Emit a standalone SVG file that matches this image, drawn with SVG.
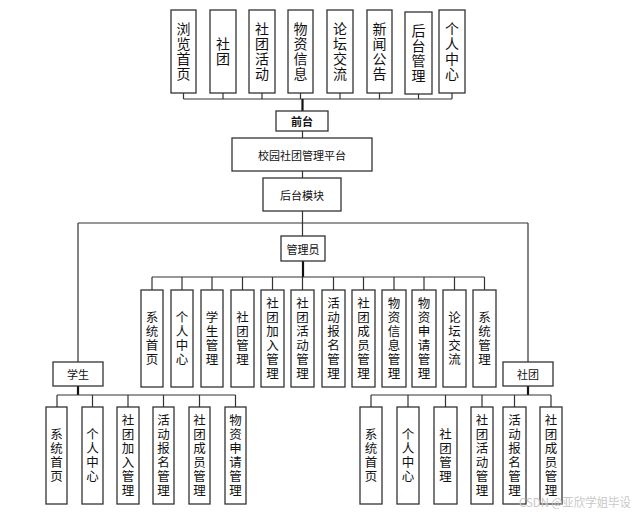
<svg xmlns="http://www.w3.org/2000/svg" width="639" height="515" viewBox="0 0 639 515">
<style>
.box{fill:#fff;stroke:#333;stroke-width:1.3}
.ln{fill:none;stroke:#333;stroke-width:1.2}
.tk{fill:none;stroke:#111;stroke-width:2.2}
.t{font-family:"Noto Sans CJK SC","Liberation Sans",sans-serif;fill:#111;text-anchor:middle;dominant-baseline:central}
.v{font-family:"Noto Sans CJK SC","Liberation Sans",sans-serif;fill:#111;text-anchor:middle;writing-mode:vertical-rl;text-orientation:upright}
.v14{font-size:14px;letter-spacing:1px}
.v12{font-size:12.5px;letter-spacing:1.5px}
.t11{font-size:11px}
.wm{font-family:"Noto Sans CJK SC","Liberation Sans",sans-serif;font-size:12px;fill:#c8c8c8}
</style>
<rect width="639" height="515" fill="#fff"/>
<g id="connectors">
<path class="ln" d="M183.5 93V99M223 93V99M262 93V99M300.5 93V99M340 93V99M379.5 93V99M418.5 94V99M452 93V99M183.5 99H452"/>
<path class="tk" d="M302.5 99V111"/>
<path class="ln" d="M302.5 131V138M302.5 171V178M302.5 211V236M78 223H528M78 223V362M528 223V362"/>
<path class="tk" d="M303 261V277"/>
<path class="ln" d="M152 277H484.5M152 277V290M182 277V290M212 277V290M242.5 277V290M272.5 277V290M302.5 277V290M333.5 277V290M363.5 277V290M394 277V290M424 277V290M454.5 277V290M484.5 277V290"/>
<path class="tk" d="M78 386V395M528 386V395"/>
<path class="ln" d="M57 395H235.5M57 395V407M92.5 395V407M128 395V407M163.5 395V407M199.5 395V407M235.5 395V407"/>
<path class="ln" d="M371 395H551M371 395V407M408 395V407M445.5 395V407M482 395V407M514.5 395V407M551 395V407"/>
</g>
<g id="n_browse"><rect class="box" x="171" y="10" width="25" height="83"/><text class="v v14" x="183.5" y="52">浏览首页</text></g>
<g id="n_club"><rect class="box" x="210" y="10" width="26" height="83"/><text class="v v14" x="223" y="52">社团</text></g>
<g id="n_activity"><rect class="box" x="249" y="10" width="26" height="83"/><text class="v v14" x="262" y="52">社团活动</text></g>
<g id="n_goods"><rect class="box" x="288" y="10" width="25" height="83"/><text class="v v14" x="300.5" y="52">物资信息</text></g>
<g id="n_forum"><rect class="box" x="327" y="10" width="26" height="83"/><text class="v v14" x="340" y="52">论坛交流</text></g>
<g id="n_news"><rect class="box" x="367" y="10" width="25" height="83"/><text class="v v14" x="379.5" y="52">新闻公告</text></g>
<g id="n_backend"><rect class="box" x="405" y="12" width="27" height="82"/><text class="v v14" x="418.5" y="53.5">后台管理</text></g>
<g id="n_personal"><rect class="box" x="439" y="10" width="26" height="83"/><text class="v v14" x="452" y="52">个人中心</text></g>
<g id="n_front"><rect class="box" x="276" y="111" width="52" height="20"/><text class="t t11" x="302" y="121" font-weight="bold">前台</text></g>
<g id="n_platform"><rect class="box" x="232" y="138" width="140" height="33"/><text class="t t11" x="302" y="154.5">校园社团管理平台</text></g>
<g id="n_backmodule"><rect class="box" x="263" y="178" width="78" height="33"/><text class="t t11" x="302" y="194.5">后台模块</text></g>
<g id="n_admin"><rect class="box" x="281" y="236" width="44" height="25"/><text class="t t11" x="303" y="248.5">管理员</text></g>
<g id="a1"><rect class="box" x="141" y="290" width="22" height="97"/><text class="v v12" x="152" y="339">系统首页</text></g>
<g id="a2"><rect class="box" x="171" y="290" width="22" height="97"/><text class="v v12" x="182" y="339">个人中心</text></g>
<g id="a3"><rect class="box" x="201" y="290" width="22" height="97"/><text class="v v12" x="212" y="339">学生管理</text></g>
<g id="a4"><rect class="box" x="231" y="290" width="23" height="97"/><text class="v v12" x="242.5" y="339">社团管理</text></g>
<g id="a5"><rect class="box" x="261" y="290" width="23" height="97"/><text class="v v12" x="272.5" y="339">社团加入管理</text></g>
<g id="a6"><rect class="box" x="291" y="290" width="23" height="97"/><text class="v v12" x="302.5" y="339">社团活动管理</text></g>
<g id="a7"><rect class="box" x="322" y="290" width="23" height="97"/><text class="v v12" x="333.5" y="339">活动报名管理</text></g>
<g id="a8"><rect class="box" x="352" y="290" width="23" height="97"/><text class="v v12" x="363.5" y="339">社团成员管理</text></g>
<g id="a9"><rect class="box" x="382" y="290" width="24" height="97"/><text class="v v12" x="394" y="339">物资信息管理</text></g>
<g id="a10"><rect class="box" x="412" y="290" width="24" height="97"/><text class="v v12" x="424" y="339">物资申请管理</text></g>
<g id="a11"><rect class="box" x="443" y="290" width="23" height="97"/><text class="v v12" x="454.5" y="339">论坛交流</text></g>
<g id="a12"><rect class="box" x="473" y="290" width="23" height="97"/><text class="v v12" x="484.5" y="339">系统管理</text></g>
<g id="n_student"><rect class="box" x="53" y="362" width="50" height="24"/><text class="t t11" x="78" y="374">学生</text></g>
<g id="n_club_role"><rect class="box" x="503" y="362" width="50" height="24"/><text class="t t11" x="528" y="374">社团</text></g>
<g id="s1"><rect class="box" x="46" y="407" width="21" height="97"/><text class="v v12" x="56.5" y="456">系统首页</text></g>
<g id="s2"><rect class="box" x="82" y="407" width="21" height="97"/><text class="v v12" x="92.5" y="456">个人中心</text></g>
<g id="s3"><rect class="box" x="117" y="407" width="22" height="97"/><text class="v v12" x="128" y="456">社团加入管理</text></g>
<g id="s4"><rect class="box" x="153" y="407" width="21" height="97"/><text class="v v12" x="163.5" y="456">活动报名管理</text></g>
<g id="s5"><rect class="box" x="189" y="407" width="21" height="97"/><text class="v v12" x="199.5" y="456">社团成员管理</text></g>
<g id="s6"><rect class="box" x="225" y="407" width="21" height="97"/><text class="v v12" x="235.5" y="456">物资申请管理</text></g>
<g id="c1"><rect class="box" x="360" y="407" width="22" height="97"/><text class="v v12" x="371" y="456">系统首页</text></g>
<g id="c2"><rect class="box" x="397" y="407" width="22" height="97"/><text class="v v12" x="408" y="456">个人中心</text></g>
<g id="c3"><rect class="box" x="434" y="407" width="23" height="97"/><text class="v v12" x="445.5" y="456">社团管理</text></g>
<g id="c4"><rect class="box" x="471" y="407" width="22" height="97"/><text class="v v12" x="482" y="456">社团活动管理</text></g>
<g id="c5"><rect class="box" x="503" y="407" width="23" height="97"/><text class="v v12" x="514.5" y="456">活动报名管理</text></g>
<g id="c6"><rect class="box" x="540" y="407" width="22" height="97"/><text class="v v12" x="551" y="456">社团成员管理</text></g>
<text class="wm" x="519" y="507" textLength="112" lengthAdjust="spacingAndGlyphs">CSDN @亚欣学姐毕设</text>
</svg>
